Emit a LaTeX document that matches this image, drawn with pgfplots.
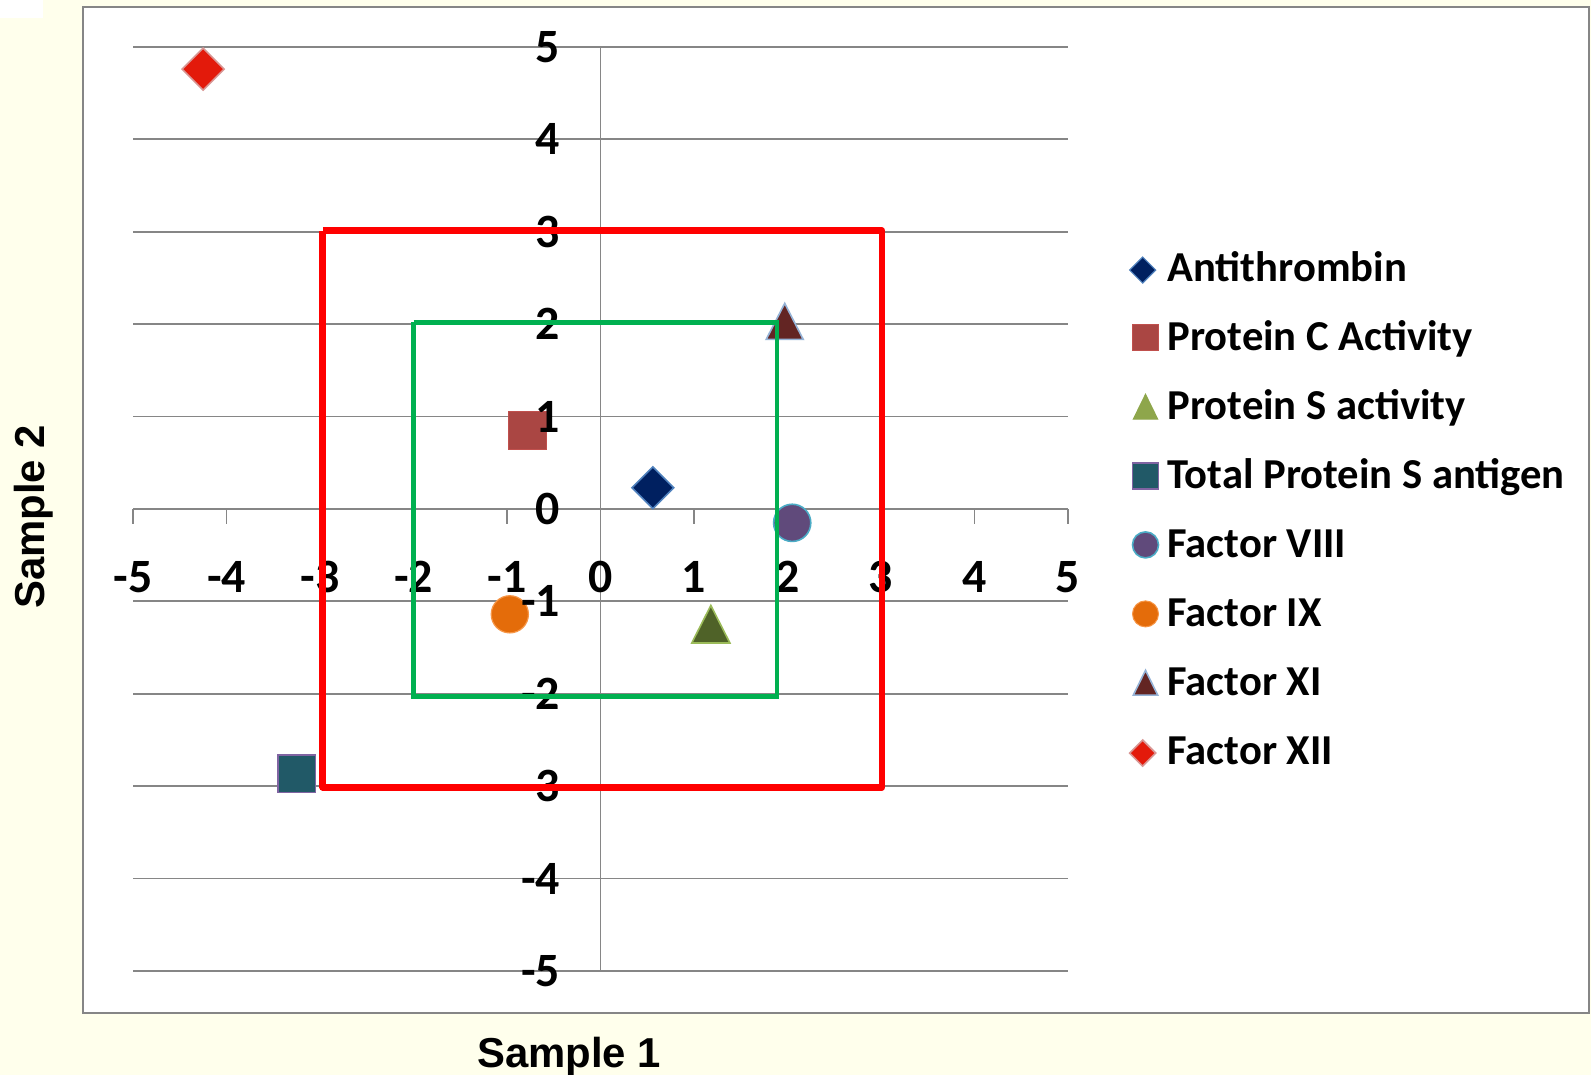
\documentclass[border=0pt]{standalone}
\usepackage{pgfplots}
\pgfplotsset{compat=1.18}
\usepackage{fontspec}
\setmainfont{Carlito}
\newfontfamily\arialb{Liberation Sans}
\definecolor{bgcream}{HTML}{FFFFEC}
\definecolor{framegray}{HTML}{868686}
\definecolor{axgray}{HTML}{868686}
\definecolor{atF}{HTML}{002060}\definecolor{atD}{HTML}{4F81BD}
\definecolor{pcF}{HTML}{AA4643}\definecolor{pcD}{HTML}{C0504D}
\definecolor{psF}{HTML}{4F6228}\definecolor{psD}{HTML}{9BBB59}\definecolor{psL}{HTML}{8EA64B}
\definecolor{tpF}{HTML}{215967}\definecolor{tpD}{HTML}{8064A2}
\definecolor{f8F}{HTML}{604A7B}\definecolor{f8D}{HTML}{4BACC6}
\definecolor{f9F}{HTML}{E46C0A}\definecolor{f9D}{HTML}{F79646}
\definecolor{f11F}{HTML}{632523}\definecolor{f11D}{HTML}{95B3D7}
\definecolor{f12F}{HTML}{E31A0B}\definecolor{f12D}{HTML}{D99694}
\definecolor{boxred}{HTML}{FF0000}
\definecolor{boxgreen}{HTML}{00B050}
\pgfplotsset{
  myframe/.style={
    at={(66.5bp,52bp)}, anchor=south west, scale only axis,
    width=467.5bp, height=462bp,
    xmin=-5, xmax=5, ymin=-5, ymax=5,
    clip=false,
  },
}
\begin{document}
\begin{tikzpicture}[x=1bp,y=1bp]
\path[use as bounding box, fill=bgcream] (0,0) rectangle (795.5,537.5);
\fill[white] (0,528.5) rectangle (21.5,537.5);
\draw[fill=white, draw=framegray, line width=1bp] (41.5,31) rectangle (794.5,534);
% axis 1: grid, axis lines, ticks, markers, legend
\begin{axis}[
  myframe,
  axis lines=center,
  axis line style={-, draw=axgray, line width=0.9bp},
  xtick={-5,-4,-3,-2,-1,0,1,2,3,4,5},
  ytick={-5,-4,-3,-2,-1,0,1,2,3,4,5},
  xticklabels={}, yticklabels={},
  hide obscured x ticks=false, hide obscured y ticks=false,
  ymajorgrids,
  grid style={draw=axgray, line width=0.9bp},
  tick align=outside,
  major tick length=7.5bp,
  tick style={draw=axgray, line width=0.9bp},
  legend cell align=left,
  legend style={at={(1.0655,0.7765)}, anchor=north west, draw=none, fill=none,
    inner sep=0pt, row sep=15.5bp, column sep=4.5bp,
    font=\fontsize{21.4}{21.4}\selectfont\bfseries,
    nodes={inner sep=0pt, text height=14bp, text depth=5bp}},
]
\addplot[forget plot, only marks, mark=square*, mark size=7.4bp,
  mark options={rotate=45, fill=atF, draw=atD, line width=0.8bp}]
  coordinates {(0.56,0.23)};
\addplot[forget plot, only marks, mark=square*, mark size=9.4bp,
  mark options={fill=pcF, draw=pcD, line width=0.6bp}]
  coordinates {(-0.78,0.85)};
\addplot[forget plot, only marks, mark=triangle*, mark size=12.5bp,
  mark options={xscale=0.88, yshift=-3bp, fill=psF, draw=psD, line width=0.8bp}]
  coordinates {(1.18,-1.25)};
\addplot[forget plot, only marks, mark=square*, mark size=9.4bp,
  mark options={fill=tpF, draw=tpD, line width=0.8bp}]
  coordinates {(-3.25,-2.865)};
\addplot[forget plot, only marks, mark=*, mark size=9.3bp,
  mark options={fill=f8F, draw=f8D, line width=0.8bp}]
  coordinates {(2.05,-0.15)};
\addplot[forget plot, only marks, mark=*, mark size=9.3bp,
  mark options={fill=f9F, draw=f9D, line width=0.6bp}]
  coordinates {(-0.97,-1.14)};
\addplot[forget plot, only marks, mark=triangle*, mark size=12bp,
  mark options={xscale=0.89, yshift=-3bp, fill=f11F, draw=f11D, line width=0.8bp}]
  coordinates {(1.97,2.03)};
\addplot[forget plot, only marks, mark=square*, mark size=7.4bp,
  mark options={rotate=45, fill=f12F, draw=f12D, line width=0.8bp}]
  coordinates {(-4.25,4.76)};
\addlegendimage{only marks, mark=square*, mark size=4.6bp, mark options={rotate=45, yshift=2bp, fill=atF, draw=atD, line width=0.6bp}}
\addlegendentry{Antithrombin}
\addlegendimage{only marks, mark=square*, mark size=6.5bp, mark options={yshift=2bp, fill=pcF, draw=pcD, line width=0.5bp}}
\addlegendentry{Protein C Activity}
\addlegendimage{only marks, mark=triangle*, mark size=8.3bp, mark options={xscale=0.85, fill=psL, draw=psL, line width=0.5bp}}
\addlegendentry{Protein S activity}
\addlegendimage{only marks, mark=square*, mark size=6.5bp, mark options={yshift=2bp, fill=tpF, draw=tpD, line width=0.8bp}}
\addlegendentry{Total Protein S antigen}
\addlegendimage{only marks, mark=*, mark size=6.5bp, mark options={yshift=2bp, fill=f8F, draw=f8D, line width=0.8bp}}
\addlegendentry{Factor VIII}
\addlegendimage{only marks, mark=*, mark size=6.5bp, mark options={yshift=2bp, fill=f9F, draw=f9D, line width=0.5bp}}
\addlegendentry{Factor IX}
\addlegendimage{only marks, mark=triangle*, mark size=8.3bp, mark options={xscale=0.85, fill=f11F, draw=f11D, line width=0.8bp}}
\addlegendentry{Factor XI}
\addlegendimage{only marks, mark=square*, mark size=4.6bp, mark options={rotate=45, yshift=2bp, fill=f12F, draw=f12D, line width=0.8bp}}
\addlegendentry{Factor XII}
\end{axis}
% axis 2: tick labels above the markers
\begin{axis}[
  myframe,
  axis lines=center,
  axis line style={draw=none},
  xtick={-5,-4,-3,-2,-1,0,1,2,3,4,5},
  ytick={-5,-4,-3,-2,-1,0,1,2,3,4,5},
  xticklabels={-5,-4,-3,-2,-1,0,1,2,3,4,5},
  yticklabels={-5,-4,-3,-2,-1,0,1,2,3,4,5},
  hide obscured x ticks=false, hide obscured y ticks=false,
  tick align=outside,
  major tick length=7.5bp,
  tick style={draw=none},
  tick label style={font=\fontsize{24}{24}\selectfont\bfseries, inner sep=0pt},
  xticklabel style={anchor=center, yshift=-26.5bp},
  yticklabel style={anchor=east, xshift=-12.5bp},
]
\end{axis}
% axis 3: boxes on top of everything
\begin{axis}[myframe, hide axis]
\addplot[draw=boxred, line width=3.4bp, line join=round, mark=none]
  coordinates {(-2.97,3.01) (3.01,3.01) (3.01,-3.01) (-2.97,-3.01) (-2.97,3.01)};
\addplot[draw=boxgreen, line width=2.2bp, line join=miter, mark=none]
  coordinates {(-2,2.02) (1.89,2.02) (1.89,-2.03) (-2,-2.03) (-2,2.02)};
\end{axis}
\node[font={\arialb\bfseries\fontsize{21}{21}\selectfont}] at (284.5,9) {Sample 1};
\node[font={\arialb\bfseries\fontsize{21}{21}\selectfont}, rotate=90] at (16.75,279) {Sample 2};
\end{tikzpicture}
\end{document}
